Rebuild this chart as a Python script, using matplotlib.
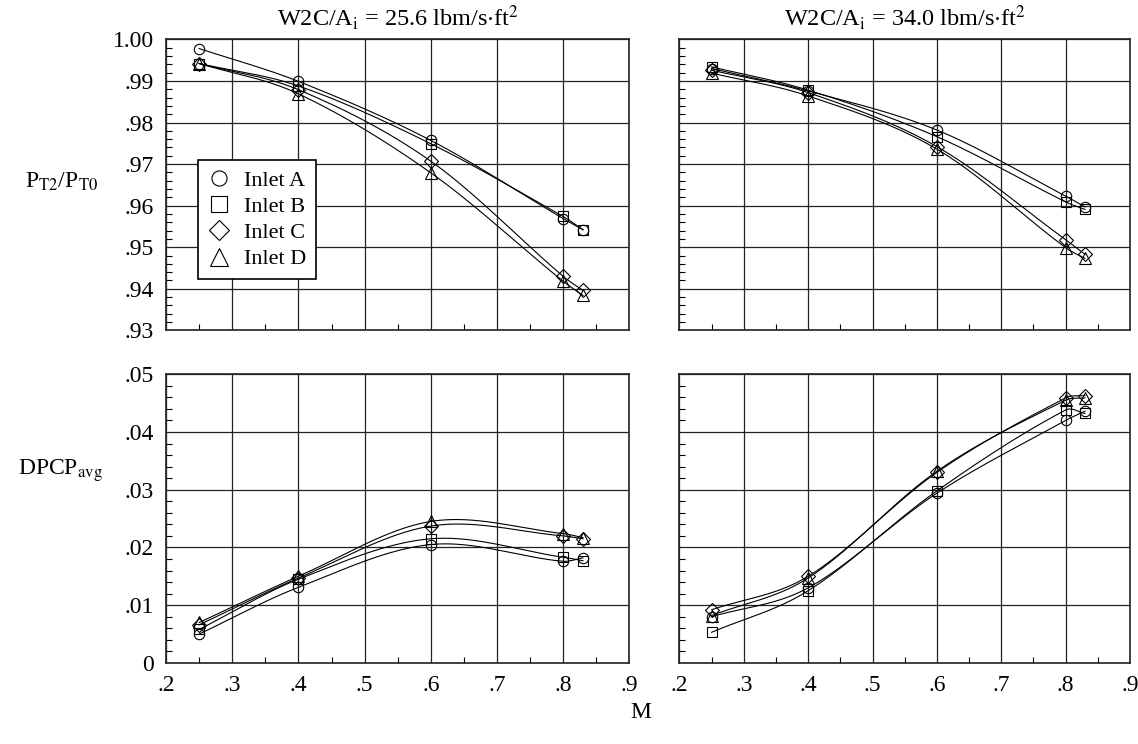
import numpy as np
import matplotlib
matplotlib.use('Agg')
import matplotlib.pyplot as plt
from matplotlib.ticker import MultipleLocator

plt.rcParams['font.family'] = ['Liberation Serif', 'DejaVu Serif']
plt.rcParams['mathtext.fontset'] = 'stix'

# Mach numbers of the test points
mach = [0.25, 0.40, 0.60, 0.80, 0.83]
inlets = ['Inlet A', 'Inlet B', 'Inlet C', 'Inlet D']
markers = ['o', 's', 'D', '^']
msizes = [7.5, 7.5, 7.0, 8.5]

# Total pressure recovery, W2C/Ai = 25.6
pr_256_a = [0.9978, 0.9899, 0.9757, 0.9569, 0.9542]
pr_256_b = [0.9942, 0.9888, 0.9749, 0.9574, 0.9542]
pr_256_c = [0.9942, 0.9879, 0.9707, 0.9430, 0.9396]
pr_256_d = [0.9942, 0.9869, 0.9679, 0.9418, 0.9384]

# Total pressure recovery, W2C/Ai = 34.0
pr_340_a = [0.9930, 0.9876, 0.9782, 0.9623, 0.9597]
pr_340_b = [0.9934, 0.9878, 0.9766, 0.9609, 0.9591]
pr_340_c = [0.9926, 0.9872, 0.9742, 0.9518, 0.9483]
pr_340_d = [0.9919, 0.9864, 0.9736, 0.9499, 0.9473]

# DPCP avg, W2C/Ai = 25.6
dp_256_a = [0.0050, 0.0131, 0.0205, 0.0176, 0.0182]
dp_256_b = [0.0058, 0.0145, 0.0215, 0.0183, 0.0177]
dp_256_c = [0.0066, 0.0147, 0.0237, 0.0220, 0.0215]
dp_256_d = [0.0070, 0.0150, 0.0245, 0.0224, 0.0217]

# DPCP avg, W2C/Ai = 34.0
dp_340_a = [0.0080, 0.0130, 0.0294, 0.0420, 0.0436]
dp_340_b = [0.0053, 0.0125, 0.0298, 0.0438, 0.0432]
dp_340_c = [0.0092, 0.0150, 0.0330, 0.0459, 0.0463]
dp_340_d = [0.0082, 0.0147, 0.0332, 0.0455, 0.0459]

x_ticks = [0.2, 0.3, 0.4, 0.5, 0.6, 0.7, 0.8, 0.9]
x_labels = ['.2', '.3', '.4', '.5', '.6', '.7', '.8', '.9']
pr_ticks = [0.93, 0.94, 0.95, 0.96, 0.97, 0.98, 0.99, 1.00]
pr_labels = ['.93', '.94', '.95', '.96', '.97', '.98', '.99', '1.00']
dp_ticks = [0.0, 0.01, 0.02, 0.03, 0.04, 0.05]
dp_labels = ['0', '.01', '.02', '.03', '.04', '.05']


def smooth_curve(x, y, num=200):
    # cubic Hermite through the points, Catmull-Rom style tangents
    x = np.asarray(x, float)
    y = np.asarray(y, float)
    n = len(x)
    d = np.zeros(n)
    d[0] = (y[1] - y[0]) / (x[1] - x[0])
    d[-1] = (y[-1] - y[-2]) / (x[-1] - x[-2])
    for i in range(1, n - 1):
        d[i] = (y[i + 1] - y[i - 1]) / (x[i + 1] - x[i - 1])
    xs = np.linspace(x[0], x[-1], num)
    idx = np.clip(np.searchsorted(x, xs) - 1, 0, n - 2)
    h = x[idx + 1] - x[idx]
    t = (xs - x[idx]) / h
    h00 = 2 * t ** 3 - 3 * t ** 2 + 1
    h10 = t ** 3 - 2 * t ** 2 + t
    h01 = -2 * t ** 3 + 3 * t ** 2
    h11 = t ** 3 - t ** 2
    ys = h00 * y[idx] + h10 * h * d[idx] + h01 * y[idx + 1] + h11 * h * d[idx + 1]
    return xs, ys


fig = plt.figure(figsize=(11.38, 7.44), dpi=100)
ax_tl = fig.add_axes([0.146, 0.556, 0.407, 0.391])
ax_tr = fig.add_axes([0.597, 0.556, 0.396, 0.391])
ax_bl = fig.add_axes([0.146, 0.109, 0.407, 0.388])
ax_br = fig.add_axes([0.597, 0.109, 0.396, 0.388])

panels = [
    (ax_tl, [pr_256_a, pr_256_b, pr_256_c, pr_256_d]),
    (ax_tr, [pr_340_a, pr_340_b, pr_340_c, pr_340_d]),
    (ax_bl, [dp_256_a, dp_256_b, dp_256_c, dp_256_d]),
    (ax_br, [dp_340_a, dp_340_b, dp_340_c, dp_340_d]),
]

for ax, series in panels:
    for vals, mk, ms, name in zip(series, markers, msizes, inlets):
        xs, ys = smooth_curve(mach, vals)
        ax.plot(xs, ys, color='black', lw=0.8)
        ax.plot(mach, vals, linestyle='none', marker=mk, ms=ms, mfc='none',
                mec='black', mew=0.8, label=name)
    ax.set_xlim(0.2, 0.9)
    ax.set_xticks(x_ticks)
    ax.xaxis.set_minor_locator(MultipleLocator(0.05))
    ax.grid(True, which='major', color='#222222', lw=0.9)
    ax.tick_params(which='both', direction='in', labelsize=17, top=False, right=False)
    ax.tick_params(which='major', length=0, pad=9)
    ax.tick_params(which='minor', length=4, width=0.8)
    for s in ax.spines.values():
        s.set_linewidth(1.2)
        s.set_color('#222222')

for ax in (ax_tl, ax_tr):
    ax.set_ylim(0.93, 1.00)
    ax.set_yticks(pr_ticks)
    ax.yaxis.set_minor_locator(MultipleLocator(0.002))
    ax.set_xticklabels([])

for ax in (ax_bl, ax_br):
    ax.set_ylim(0.0, 0.05)
    ax.set_yticks(dp_ticks)
    ax.yaxis.set_minor_locator(MultipleLocator(0.002))
    ax.set_xticklabels(x_labels)

ax_tl.set_yticklabels(pr_labels)
ax_bl.set_yticklabels(dp_labels)
ax_tr.set_yticklabels([])
ax_br.set_yticklabels([])

ax_tl.set_title(r'W2C/A$_\mathrm{i}$ = 25.6 lbm/s$\cdot$ft$^2$', fontsize=17.5, pad=10)
ax_tr.set_title(r'W2C/A$_\mathrm{i}$ = 34.0 lbm/s$\cdot$ft$^2$', fontsize=17.5, pad=10)

leg = ax_tl.legend(loc='upper left', bbox_to_anchor=(0.069, 0.584), borderaxespad=0,
                   fontsize=16, markerscale=1.45, handlelength=1.0, handletextpad=0.6,
                   labelspacing=0.25, borderpad=0.45, fancybox=False, framealpha=1)
leg.get_frame().set_edgecolor('black')
leg.get_frame().set_linewidth(1.2)

fig.text(0.054, 0.755, r'P$_\mathrm{T2}$/P$_\mathrm{T0}$', fontsize=17, ha='center', va='center')
fig.text(0.053, 0.368, r'DPCP$_\mathrm{avg}$', fontsize=17, ha='center', va='center')
fig.text(0.563, 0.042, 'M', fontsize=17, ha='center', va='center')

fig.savefig('out.png', dpi=100)
